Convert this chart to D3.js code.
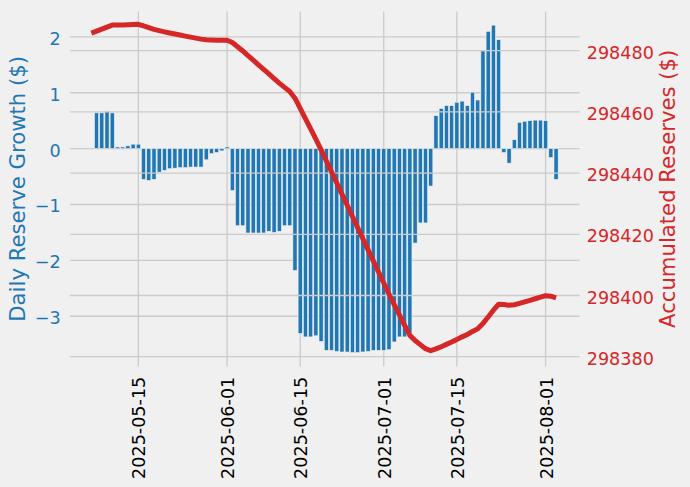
<!DOCTYPE html>
<html><head><meta charset="utf-8">
<script src="https://cdn.jsdelivr.net/npm/d3@7"></script>
<style>html,body{margin:0;padding:0;background:#f0f0f0;} svg{display:block;font-family:"DejaVu Sans",sans-serif;}</style>
</head><body><svg id="c" width="690" height="487"></svg>
<script>
const growthDates = [
"2025-05-07","2025-05-08","2025-05-09","2025-05-10","2025-05-11","2025-05-12","2025-05-13","2025-05-14","2025-05-15","2025-05-16",
"2025-05-17","2025-05-18","2025-05-19","2025-05-20","2025-05-21","2025-05-22","2025-05-23","2025-05-24","2025-05-25","2025-05-26",
"2025-05-27","2025-05-28","2025-05-29","2025-05-30","2025-05-31",
"2025-06-01","2025-06-02","2025-06-03","2025-06-04","2025-06-05","2025-06-06","2025-06-07","2025-06-08","2025-06-09","2025-06-10",
"2025-06-11","2025-06-12","2025-06-13","2025-06-14","2025-06-15","2025-06-16","2025-06-17","2025-06-18","2025-06-19","2025-06-20",
"2025-06-21","2025-06-22","2025-06-23","2025-06-24","2025-06-25","2025-06-26","2025-06-27","2025-06-28","2025-06-29","2025-06-30",
"2025-07-01","2025-07-02","2025-07-03","2025-07-04","2025-07-05","2025-07-06","2025-07-07","2025-07-08","2025-07-09","2025-07-10",
"2025-07-11","2025-07-12","2025-07-13","2025-07-14","2025-07-15","2025-07-16","2025-07-17","2025-07-18","2025-07-19","2025-07-20",
"2025-07-21","2025-07-22","2025-07-23","2025-07-24","2025-07-25","2025-07-26","2025-07-27","2025-07-28","2025-07-29","2025-07-30",
"2025-07-31","2025-08-01","2025-08-02","2025-08-03"];
const growth = [
0.64,0.64,0.67,0.64,0.03,0.03,0.05,0.08,0.08,-0.55,
-0.57,-0.55,-0.42,-0.39,-0.36,-0.35,-0.34,-0.34,-0.33,-0.33,
-0.33,-0.20,-0.09,-0.07,-0.04,
0.03,-0.75,-1.38,-1.38,-1.51,-1.51,-1.51,-1.51,-1.48,-1.50,
-1.48,-1.38,-1.38,-2.18,-3.31,-3.37,-3.37,-3.35,-3.45,-3.61,
-3.61,-3.63,-3.64,-3.64,-3.65,-3.65,-3.64,-3.63,-3.61,-3.61,
-3.61,-3.60,-3.46,-3.37,-3.37,-3.30,-1.69,-1.33,-1.33,-0.67,
0.59,0.72,0.77,0.77,0.83,0.85,0.77,1.01,0.87,1.75,
2.10,2.21,1.95,-0.07,-0.26,0.16,0.47,0.49,0.50,0.51,
0.51,0.50,-0.16,-0.55];
const reserveDates = ["2025-05-06"].concat(growthDates);
const reserves = [
298485.75,298486.39,298487.04,298487.71,298488.35,298488.38,298488.41,298488.47,298488.54,298488.62,
298488.07,298487.50,298486.96,298486.54,298486.15,298485.79,298485.44,298485.10,298484.76,298484.43,
298484.10,298483.77,298483.57,298483.48,298483.42,298483.38,
298483.41,298482.66,298481.28,298479.90,298478.39,298476.88,298475.37,298473.86,298472.38,298470.88,
298469.40,298468.02,298466.64,298464.46,298461.15,298457.78,298454.41,298451.06,298447.61,298444.00,
298440.39,298436.76,298433.12,298429.48,298425.83,298422.18,298418.54,298414.91,298411.30,298407.69,
298404.08,298400.48,298397.02,298393.65,298390.28,298386.98,298385.29,298383.96,298382.63,298381.96,
298382.55,298383.27,298384.04,298384.81,298385.64,298386.49,298387.26,298388.27,298389.14,298390.89,
298392.99,298395.20,298397.15,298397.08,298396.82,298396.98,298397.44,298397.93,298398.43,298398.94,
298399.45,298399.95,298399.79,298399.24];
const xTickLabels = ["2025-05-15","2025-06-01","2025-06-15","2025-07-01","2025-07-15","2025-08-01"];
const leftTicks = [-3,-2,-1,0,1,2];
const rightTicks = [298380,298400,298420,298440,298460,298480];
const leftLabel = "Daily Reserve Growth ($)";
const rightLabel = "Accumulated Reserves ($)";

const BLUE = "#1f77b4", RED = "#d62728", GRID = "#cbcbcb", BG = "#f0f0f0";
const L = 68, R = 581.5, T = 9.5, B = 368.2;
const parse = d3.utcParse("%Y-%m-%d");
const DAY = 864e5;
const gd = growthDates.map(parse), rd = reserveDates.map(parse);

const lo = Math.min(+rd[0], +gd[0] - 0.4*DAY), hi = Math.max(+rd[rd.length-1], +gd[gd.length-1] + 0.4*DAY);
const pad = (hi - lo) * 0.05;
const x = d3.scaleUtc().domain([new Date(lo - pad), new Date(hi + pad)]).range([L, R]);
const yL = d3.scaleLinear().domain([-3.93, 2.49]).range([B, T]);
const yR = d3.scaleLinear().domain([298376.25, 298493.45]).range([B, T]);

const svg = d3.select("#c");
svg.append("rect").attr("width", 690).attr("height", 487).attr("fill", BG);

// ax1 grid
const g1 = svg.append("g");
g1.selectAll("line.xg").data(xTickLabels.map(parse)).join("line")
  .attr("x1", d => x(d)).attr("x2", d => x(d)).attr("y1", T).attr("y2", B)
  .attr("stroke", GRID).attr("stroke-width", 1.3);
g1.selectAll("line.yg").data(leftTicks).join("line")
  .attr("x1", L).attr("x2", R).attr("y1", d => yL(d)).attr("y2", d => yL(d))
  .attr("stroke", GRID).attr("stroke-width", 1.3);

// bars
svg.append("g").selectAll("rect").data(growth).join("rect")
  .attr("x", (d, i) => x(new Date(+gd[i] - 0.4*DAY)))
  .attr("width", (d, i) => x(new Date(+gd[i] + 0.4*DAY)) - x(new Date(+gd[i] - 0.4*DAY)))
  .attr("y", d => yL(Math.max(0, d)))
  .attr("height", d => Math.abs(yL(d) - yL(0)))
  .attr("fill", BLUE).attr("stroke", BG).attr("stroke-width", 0.6);

// ax2 grid (over bars)
svg.append("g").selectAll("line").data(rightTicks).join("line")
  .attr("x1", L).attr("x2", R).attr("y1", d => yR(d)).attr("y2", d => yR(d))
  .attr("stroke", GRID).attr("stroke-width", 1.3);

// line
svg.append("path").datum(reserves)
  .attr("d", d3.line().x((d, i) => x(rd[i])).y(d => yR(d)))
  .attr("fill", "none").attr("stroke", RED).attr("stroke-width", 5)
  .attr("stroke-linejoin", "round").attr("stroke-linecap", "butt");

// spines in background colour
svg.append("rect").attr("x", L).attr("y", T).attr("width", R - L).attr("height", B - T)
  .attr("fill", "none").attr("stroke", BG).attr("stroke-width", 3.8);

// axes
const FS = "17.6px";
const gx = svg.append("g").attr("transform", `translate(0,${B})`)
  .call(d3.axisBottom(x).tickValues(xTickLabels.map(parse)).tickFormat(d3.utcFormat("%Y-%m-%d")).tickSize(0).tickPadding(0));
gx.select(".domain").remove();
gx.selectAll("text").attr("y", null).attr("dy", null).attr("text-anchor", "end")
  .attr("transform", "translate(6.6,8.5) rotate(-90)")
  .style("font-size", FS).style("font-family", "'DejaVu Sans'").attr("fill", "#000");

const fmtL = d => (d < 0 ? "\u2212" : "") + Math.abs(d);
const gl = svg.append("g").attr("transform", `translate(${L},0)`)
  .call(d3.axisLeft(yL).tickValues(leftTicks).tickFormat(fmtL).tickSize(0).tickPadding(L - 60.7));
gl.select(".domain").remove();
gl.selectAll("text").attr("dy", null).attr("y", 7.5)
  .style("font-size", FS).style("font-family", "'DejaVu Sans'").attr("fill", BLUE);

const gr = svg.append("g").attr("transform", `translate(${R},0)`)
  .call(d3.axisRight(yR).tickValues(rightTicks).tickFormat(d => String(d)).tickSize(0).tickPadding(586.7 - R));
gr.select(".domain").remove();
gr.selectAll("text").attr("dy", null).attr("y", 7.5)
  .style("font-size", FS).style("font-family", "'DejaVu Sans'").attr("fill", RED);

svg.append("text").attr("transform", `translate(24.8,${(T+B)/2}) rotate(-90)`)
  .attr("text-anchor", "middle").style("font-size", "21.2px").attr("fill", BLUE).text(leftLabel);
svg.append("text").attr("transform", `translate(675.4,${(T+B)/2}) rotate(-90)`)
  .attr("text-anchor", "middle").style("font-size", "21.2px").attr("fill", RED).text(rightLabel);
</script>
</body></html>
